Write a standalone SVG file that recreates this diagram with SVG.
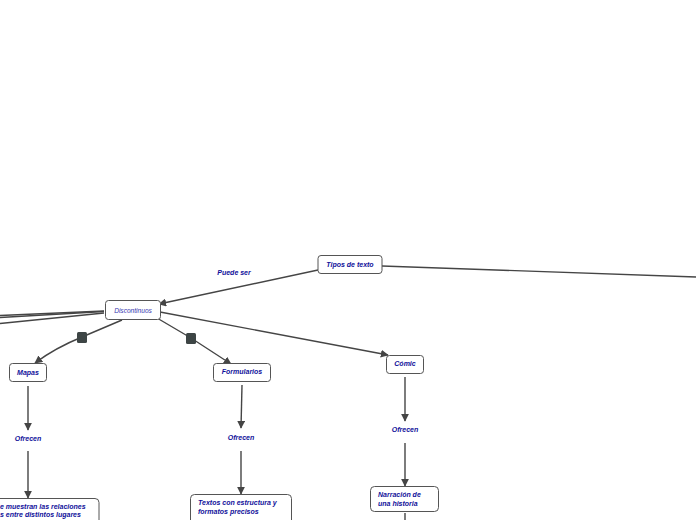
<svg xmlns="http://www.w3.org/2000/svg" width="696" height="520" viewBox="0 0 696 520">
<defs>
<style>
.c{fill:none;stroke:#454545;stroke-width:1.4}
.b{fill:#fff;stroke:#555;stroke-width:1}
.t{font-family:"Liberation Sans",Arial,sans-serif;font-size:7px;font-weight:bold;font-style:italic;fill:#10109a}
.d{font-family:"Liberation Sans",Arial,sans-serif;font-size:6.6px;font-style:italic;fill:#3838b0}
.m{fill:#3d4545}
</style>
<marker id="a" viewBox="0 0 10 10" refX="9" refY="5" markerWidth="8" markerHeight="8" markerUnits="userSpaceOnUse" orient="auto">
<path d="M0,0L10,5L0,10Z" fill="#454545"/>
</marker>
</defs>
<rect width="696" height="520" fill="#fff"/>
<g id="connectors">
<path class="c" d="M382,266L696,277"/>
<path class="c" d="M318,270L159,304" marker-end="url(#a)"/>
<path class="c" d="M104,311L0,315.5"/>
<path class="c" d="M104,311.5L0,317.5"/>
<path class="c" d="M104,313L0,323.5"/>
<path class="c" d="M122,320L82,337Q55,348 35,363" marker-end="url(#a)"/>
<rect class="m" x="77" y="332" width="10" height="11" rx="1.5"/>
<path class="c" d="M157,318L191,338L231,364" marker-end="url(#a)"/>
<rect class="m" x="186" y="333" width="10" height="11" rx="1.5"/>
<path class="c" d="M160,312L388,355" marker-end="url(#a)"/>
<path class="c" d="M28,386L28,430" marker-end="url(#a)"/>
<path class="c" d="M28,451L28,498" marker-end="url(#a)"/>
<path class="c" d="M242,385L241,428" marker-end="url(#a)"/>
<path class="c" d="M241,451L241,494" marker-end="url(#a)"/>
<path class="c" d="M405,377L405,421" marker-end="url(#a)"/>
<path class="c" d="M405,443L405,486" marker-end="url(#a)"/>
<path class="c" d="M405,513L405,520"/>
<text class="t" x="234" y="275" text-anchor="middle">Puede ser</text>
<text class="t" x="28" y="441" text-anchor="middle">Ofrecen</text>
<text class="t" x="241" y="440" text-anchor="middle">Ofrecen</text>
<text class="t" x="405" y="432" text-anchor="middle">Ofrecen</text>
</g>
<g id="tipos">
<rect class="b" x="318" y="255.5" width="64" height="18" rx="3"/>
<text class="t" x="350" y="267" text-anchor="middle">Tipos de texto</text>
</g>
<g id="discontinuos">
<rect class="b" x="105.5" y="300.5" width="55" height="19" rx="3"/>
<text class="d" x="133" y="312.5" text-anchor="middle">Discontinuos</text>
</g>
<g id="mapas">
<rect class="b" x="9.5" y="363.5" width="37" height="18" rx="3"/>
<text class="t" x="28" y="375" text-anchor="middle">Mapas</text>
</g>
<g id="formularios">
<rect class="b" x="213.5" y="363.5" width="57" height="18" rx="3"/>
<text class="t" x="242" y="374" text-anchor="middle">Formularios</text>
</g>
<g id="comic">
<rect class="b" x="386.5" y="355.5" width="37" height="18" rx="3"/>
<text class="t" x="405" y="366" text-anchor="middle">Cómic</text>
</g>
<g id="relaciones">
<rect class="b" x="-10" y="498.5" width="109" height="30" rx="4"/>
<text class="t" x="0" y="509">e muestran las relaciones</text>
<text class="t" x="0" y="517">s entre distintos lugares</text>
</g>
<g id="textos">
<rect class="b" x="190.5" y="494.5" width="101" height="30" rx="4"/>
<text class="t" x="198" y="505">Textos con estructura y</text>
<text class="t" x="198" y="513.5">formatos precisos</text>
</g>
<g id="narracion">
<rect class="b" x="370.5" y="486.5" width="68" height="25" rx="4"/>
<text class="t" x="378" y="497">Narración de</text>
<text class="t" x="378" y="505.5">una historia</text>
</g>
</svg>
